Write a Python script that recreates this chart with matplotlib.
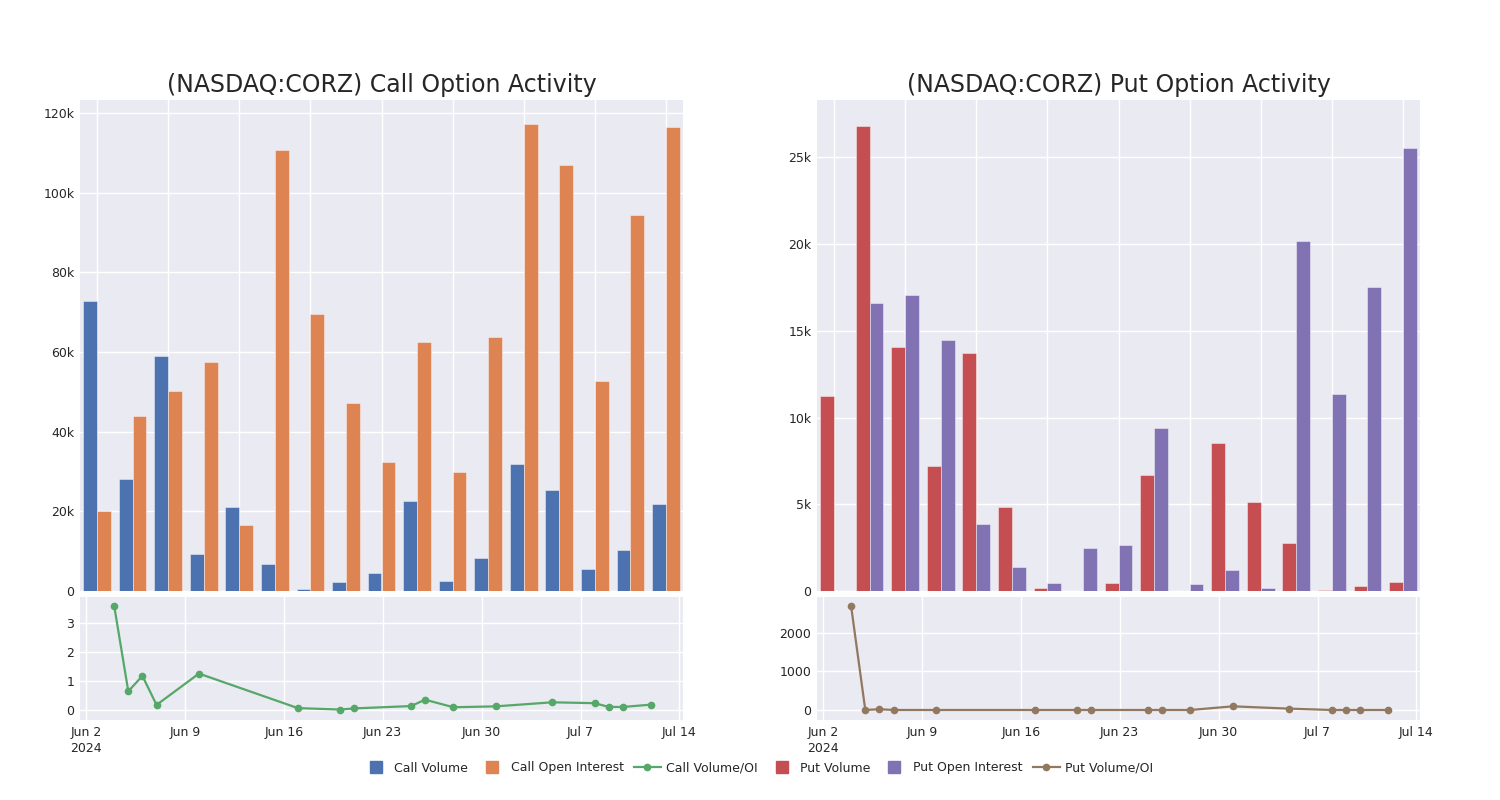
import numpy as np
import pandas as pd
import matplotlib
matplotlib.use("Agg")
import matplotlib.pyplot as plt
from matplotlib.lines import Line2D
from matplotlib.ticker import FuncFormatter

# data
dates = pd.to_datetime(["2024-06-04", "2024-06-05", "2024-06-06", "2024-06-07", "2024-06-10",
                        "2024-06-17", "2024-06-20", "2024-06-21", "2024-06-25", "2024-06-26",
                        "2024-06-28", "2024-07-01", "2024-07-05", "2024-07-08", "2024-07-09",
                        "2024-07-10", "2024-07-12"])
call_volume = [72700, 28200, 59100, 9400, 21000, 6800, 400, 2350, 4400, 22500,
               2600, 8300, 31900, 25300, 5400, 10200, 21800]
call_oi = [20100, 44000, 50100, 57400, 16500, 110700, 69500, 47100, 32300, 62600,
           30000, 63900, 117300, 107000, 52800, 94500, 116600]
call_ratio = [3.6, 0.65, 1.18, 0.18, 1.26, 0.07, 0.02, 0.06, 0.14, 0.36,
              0.1, 0.13, 0.27, 0.24, 0.11, 0.11, 0.19]
put_volume = [11240, 26800, 14060, 7180, 13720, 4840, 170, 20, 480, 6660,
              0, 8540, 5120, 2780, 30, 290, 520]
put_oi = [4, 16600, 17080, 14470, 3860, 1380, 480, 2460, 2650, 9420,
          420, 1190, 190, 20150, 11360, 17500, 25520]
put_ratio = [2690, 0, 20, 0, 0, 0, 0, 0, 0, 0, 0, 95, 35, 0, 0, 0, 0]

BLUE, ORANGE, GREEN = "#4c72b0", "#dd8452", "#55a868"
RED, PURPLE, BROWN = "#c44e52", "#8172b3", "#937860"
BG = "#eaeaf2"
TXT = "#262626"

plt.rcParams['font.family'] = ['DejaVu Sans']
fig = plt.figure(figsize=(15, 8), dpi=100)
W, H = 1500, 800


def px_axes(x0, y0, x1, y1):
    return fig.add_axes([x0 / W, (H - y1) / H, (x1 - x0) / W, (y1 - y0) / H])


def style(ax):
    ax.set_facecolor(BG)
    for s in ax.spines.values():
        s.set_visible(False)
    ax.grid(True, color="white", linewidth=1)
    ax.set_axisbelow(True)
    ax.tick_params(length=0, labelsize=9, colors=TXT, pad=4)


def kfmt(v, pos):
    return "0" if v == 0 else f"{int(round(v / 1000))}k"


def bar_panel(x0, vol, oi, c1, c2, ymax, ystep, title):
    ax = px_axes(x0, 100, x0 + 603, 591)
    style(ax)
    idx = np.arange(len(vol))
    w = 0.39
    ax.bar(idx - w / 2, vol, w, color=c1, edgecolor="#ffffff80", linewidth=0.6)
    ax.bar(idx + w / 2, oi, w, color=c2, edgecolor="#ffffff80", linewidth=0.6)
    ax.set_xlim(-0.48, len(vol) - 0.52)
    ax.set_ylim(0, ymax)
    ax.set_xticks(idx[::2])
    ax.set_xticklabels([])
    ax.set_yticks(np.arange(0, ymax, ystep))
    ax.yaxis.set_major_formatter(FuncFormatter(kfmt))
    ax.set_title(title, fontsize=17, color=TXT, pad=6)
    return ax


def line_panel(x0, ratio, color, ylim, yticks):
    ax = px_axes(x0, 597, x0 + 603, 720)
    style(ax)
    ax.plot(dates, ratio, color=color, linewidth=1.6, marker="o", markersize=4.5)
    start = pd.Timestamp("2024-06-02")
    end = pd.Timestamp("2024-07-14")
    ax.set_xlim(start - pd.Timedelta(hours=10), end + pd.Timedelta(hours=6))
    ticks = pd.date_range(start, end, freq="7D")
    ax.set_xticks(ticks)
    ax.set_xticklabels(["Jun 2\n2024" if i == 0 else f"{t:%b} {t.day}" for i, t in enumerate(ticks)])
    for lab in ax.get_xticklabels():
        lab.set_linespacing(1.3)
    ax.set_ylim(*ylim)
    ax.set_yticks(yticks)
    return ax


bar_panel(80, call_volume, call_oi, BLUE, ORANGE, 123300, 20000,
          "(NASDAQ:CORZ) Call Option Activity")
line_panel(80, call_ratio, GREEN, (-0.34, 3.9), [0, 1, 2, 3])
bar_panel(817, put_volume, put_oi, RED, PURPLE, 28300, 5000,
          "(NASDAQ:CORZ) Put Option Activity")
line_panel(817, put_ratio, BROWN, (-260, 2935), [0, 1000, 2000])

handles = [
    Line2D([], [], linestyle="none", marker="s", markersize=9, color=BLUE),
    Line2D([], [], linestyle="none", marker="s", markersize=9, color=ORANGE),
    Line2D([], [], color=GREEN, linewidth=1.6, marker="o", markersize=4.5),
    Line2D([], [], linestyle="none", marker="s", markersize=9, color=RED),
    Line2D([], [], linestyle="none", marker="s", markersize=9, color=PURPLE),
    Line2D([], [], color=BROWN, linewidth=1.6, marker="o", markersize=4.5),
]
labels = ["Call Volume", "Call Open Interest", "Call Volume/OI",
          "Put Volume", "Put Open Interest", "Put Volume/OI"]
leg = fig.legend(handles, labels, loc="center", bbox_to_anchor=(0.505, (H - 768) / H),
                 ncol=6, frameon=False, fontsize=9, handlelength=2.2, columnspacing=0.8,
                 handletextpad=0.4)
for t in leg.get_texts():
    t.set_color(TXT)

fig.savefig("out.png", dpi=100, facecolor="white")
